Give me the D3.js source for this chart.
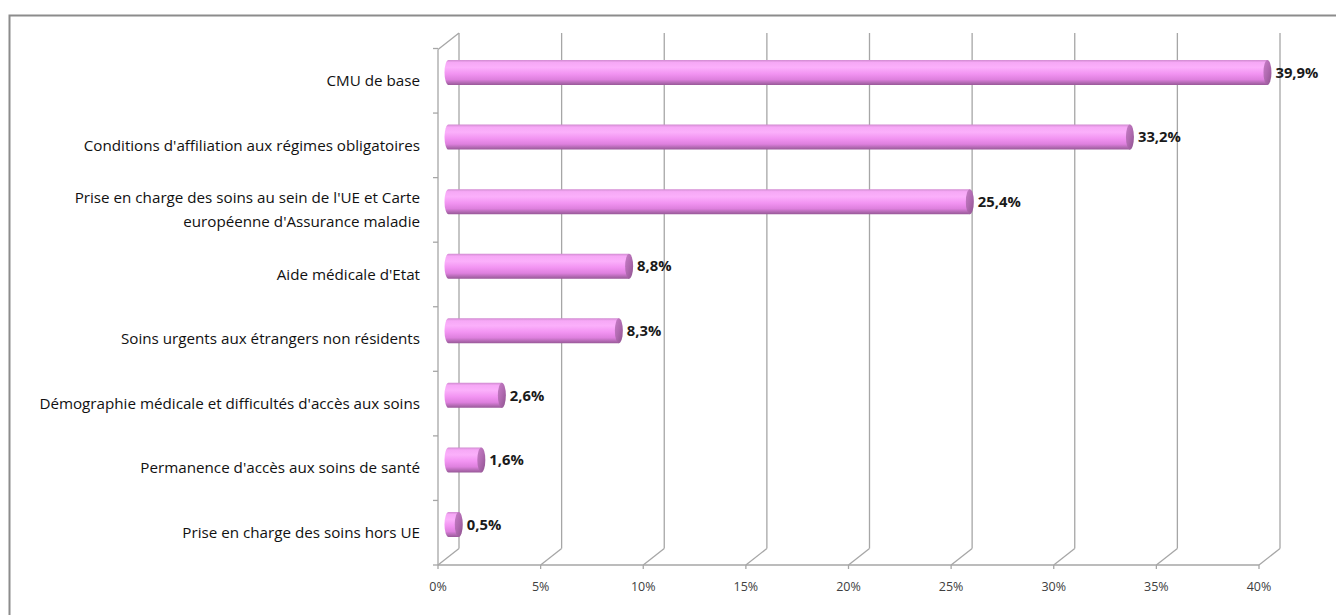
<!DOCTYPE html>
<html>
<head>
<meta charset="utf-8">
<script src="https://cdn.jsdelivr.net/npm/d3@7"></script>
<style>
  html, body { margin: 0; padding: 0; background: #fff; }
  svg { display: block; }
  text { font-family: "Open Sans", "Noto Sans", sans-serif; }
</style>
</head>
<body>
<svg id="chart" width="1336" height="615"></svg>
<script>
// Share of requests by topic (percent)
const categories = [
  "CMU de base",
  "Conditions d'affiliation aux régimes obligatoires",
  "Prise en charge des soins au sein de l'UE et Carte|européenne d'Assurance maladie",
  "Aide médicale d'Etat",
  "Soins urgents aux étrangers non résidents",
  "Démographie médicale et difficultés d'accès aux soins",
  "Permanence d'accès aux soins de santé",
  "Prise en charge des soins hors UE"
];
const values = [39.9, 33.2, 25.4, 8.8, 8.3, 2.6, 1.6, 0.5];
const tickValues = [0, 5, 10, 15, 20, 25, 30, 35, 40];
const tickLabels = ["0%", "5%", "10%", "15%", "20%", "25%", "30%", "35%", "40%"];

const svg = d3.select("#chart");
const frLocale = d3.formatLocale({ decimal: ",", thousands: " ", grouping: [3], currency: ["", " €"] });
const fmt = frLocale.format(".1f");

// front plane of the 3D plot, and the depth offset to the back wall
const x = d3.scaleLinear().domain([0, 40]).range([438, 1259]);
const y = d3.scaleBand().domain(categories).range([48.5, 565]);
const depthX = 21, depthY = -16.5;
const floorY = 565;
const topBack = 33;

// outer frame
svg.append("rect")
  .attr("x", 9.5).attr("y", 15.5)
  .attr("width", 1400).attr("height", 700)
  .attr("fill", "none").attr("stroke", "#8c8c8c").attr("stroke-width", 2);

const grid = svg.append("g").attr("stroke", "#a6a6a6").attr("stroke-width", 1.3).attr("fill", "none");

// back-wall vertical gridlines
grid.selectAll("line.v").data(tickValues).join("line")
  .attr("class", "v")
  .attr("x1", d => x(d) + depthX).attr("x2", d => x(d) + depthX)
  .attr("y1", topBack).attr("y2", floorY + depthY);

// floor depth lines
grid.selectAll("line.d").data(tickValues).join("line")
  .attr("class", "d")
  .attr("x1", d => x(d)).attr("x2", d => x(d) + depthX)
  .attr("y1", floorY).attr("y2", floorY + depthY);

// floor front edge
grid.append("line")
  .attr("x1", x(0)).attr("x2", x(40))
  .attr("y1", floorY).attr("y2", floorY);

// x ticks
grid.selectAll("line.t").data(tickValues).join("line")
  .attr("class", "t")
  .attr("x1", d => x(d)).attr("x2", d => x(d))
  .attr("y1", floorY).attr("y2", floorY + 4);

// left wall: front edge and top depth line
grid.append("line")
  .attr("x1", x(0)).attr("x2", x(0))
  .attr("y1", topBack - depthY).attr("y2", floorY);
grid.append("line")
  .attr("x1", x(0)).attr("x2", x(0) + depthX)
  .attr("y1", topBack - depthY).attr("y2", topBack);

// category ticks on the left axis
const catBounds = categories.map(c => y(c)).concat([y.range()[1]]);
grid.selectAll("line.c").data(catBounds).join("line")
  .attr("class", "c")
  .attr("x1", x(0) - 5).attr("x2", x(0))
  .attr("y1", d => d).attr("y2", d => d);

// x tick labels
svg.append("g").selectAll("text").data(tickValues).join("text")
  .attr("x", d => x(d))
  .attr("y", floorY + 26)
  .attr("text-anchor", "middle")
  .attr("font-size", 12.5)
  .attr("fill", "#404040")
  .text((d, i) => tickLabels[i]);

// category labels (| splits lines)
const catG = svg.append("g");
categories.forEach(c => {
  const lines = c.split("|");
  const cy = y(c) + y.bandwidth() / 2;
  const lh = 24;
  const t = catG.append("text")
    .attr("text-anchor", "end")
    .attr("font-size", 15.2)
    .attr("fill", "#111");
  lines.forEach((ln, i) => {
    t.append("tspan")
      .attr("x", 420)
      .attr("y", cy + (i - (lines.length - 1) / 2) * lh)
      .attr("dy", "0.35em")
      .text(ln);
  });
});

// cylinder shading
const defs = svg.append("defs");
const g1 = defs.append("linearGradient").attr("id", "barBody").attr("x1", 0).attr("y1", 0).attr("x2", 0).attr("y2", 1);
[[0, "#d08ad0"], [0.1, "#f6a8f6"], [0.3, "#fbb0fb"], [0.55, "#f294f2"], [0.78, "#de80de"], [0.92, "#b068b0"], [1, "#985898"]]
  .forEach(([o, c]) => g1.append("stop").attr("offset", o).attr("stop-color", c));
const g2 = defs.append("linearGradient").attr("id", "barCap").attr("x1", 0).attr("y1", 0).attr("x2", 1).attr("y2", 1);
[[0, "#c87ec8"], [0.5, "#b06ab0"], [1, "#8e528e"]]
  .forEach(([o, c]) => g2.append("stop").attr("offset", o).attr("stop-color", c));

const barH = 25, rx = 4, ry = barH / 2;
const bars = svg.append("g");
categories.forEach((c, i) => {
  const cy = y(c) + y.bandwidth() / 2 + depthY / 2;
  const x0 = x(0) + depthX / 2;
  const x1 = x(values[i]) + depthX / 2;
  const top = cy - ry, bot = cy + ry;
  bars.append("path")
    .attr("d", `M${x1},${top} L${x0},${top} A${rx},${ry} 0 0 0 ${x0},${bot} L${x1},${bot} Z`)
    .attr("fill", "url(#barBody)");
  bars.append("ellipse")
    .attr("cx", x1).attr("cy", cy).attr("rx", rx).attr("ry", ry)
    .attr("fill", "url(#barCap)");
  bars.append("text")
    .attr("x", x1 + rx + 4)
    .attr("y", cy)
    .attr("dy", "0.35em")
    .attr("font-size", 14.8)
    .attr("font-weight", "bold")
    .attr("fill", "#1a1a1a")
    .text(fmt(values[i]) + "%");
});
</script>
</body>
</html>
